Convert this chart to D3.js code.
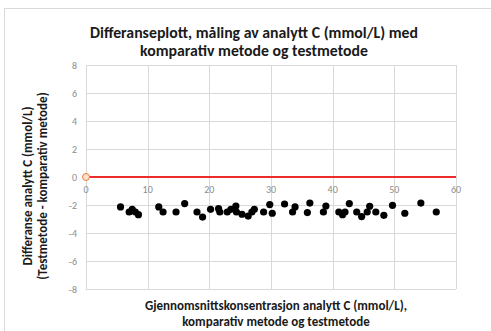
<!DOCTYPE html>
<html>
<head>
<meta charset="utf-8">
<script src="https://cdn.jsdelivr.net/npm/d3@7"></script>
<style>
  body { margin: 0; background: #fff; }
  svg { display: block; }
</style>
</head>
<body>
<div id="chart"></div>
<script>
var meanConc = [5.6, 7.0, 7.5, 8.0, 8.5, 11.8, 12.5, 14.6, 16.0, 18.0, 18.9, 20.2, 21.5, 21.7, 22.9,
  23.5, 24.3, 24.4, 25.3, 26.3, 26.9, 27.3, 28.8, 29.8, 30.2, 32.2, 33.5, 33.9, 35.9, 36.3,
  38.5, 38.9, 41.0, 41.6, 42.0, 42.7, 43.9, 44.7, 45.6, 46.0, 47.0, 48.3, 49.7, 51.7, 54.3, 56.8]
var difference = [-2.14, -2.5, -2.31, -2.5, -2.69, -2.14, -2.5, -2.5, -1.9, -2.5, -2.86, -2.31, -2.26, -2.5, -2.5,
  -2.31, -2.07, -2.5, -2.66, -2.79, -2.5, -2.31, -2.5, -1.97, -2.59, -1.93, -2.5, -2.14, -2.54, -1.86,
  -2.5, -2.07, -2.5, -2.69, -2.5, -1.9, -2.5, -2.83, -2.5, -2.09, -2.5, -2.74, -2.02, -2.59, -1.86, -2.5]
var zeroLine = [[0, 0], [60, 0]]
var xTicks = [0, 10, 20, 30, 40, 50, 60]
var yTicks = [8, 6, 4, 2, 0, -2, -4, -6, -8]
var titleLines = ["Differanseplott, måling av analytt C (mmol/L) med", "komparativ metode  og testmetode"]
var yTitleLines = ["Differanse analytt C (mmol/L)", "(Testmetode - komparativ metode)"]
var xTitleLines = ["Gjennomsnittskonsentrasjon  analytt C (mmol/L),", "komparativ  metode og testmetode"]

var width = 491
var height = 331
var plotLeft = 86, plotRight = 456, plotTop = 65, plotBottom = 289
var font = "Carlito, 'Open Sans', 'Noto Sans', sans-serif"

var svg = d3.select("#chart").append("svg")
  .attr("width", width)
  .attr("height", height)

svg.append("rect")
  .attr("x", 4.5).attr("y", 8.5)
  .attr("width", 492).attr("height", 330)
  .attr("fill", "#fff")
  .attr("stroke", "#d9d9d9")

var x = d3.scaleLinear().domain([0, 60]).range([plotLeft, plotRight])
var y = d3.scaleLinear().domain([-8, 8]).range([plotBottom, plotTop])

// gridlines
svg.append("g").selectAll("line")
  .data(yTicks)
  .enter().append("line")
  .attr("x1", plotLeft).attr("x2", plotRight)
  .attr("y1", function(d) { return Math.round(y(d)) + 0.5 })
  .attr("y2", function(d) { return Math.round(y(d)) + 0.5 })
  .attr("stroke", "#d9d9d9")

svg.append("g").selectAll("line")
  .data(xTicks)
  .enter().append("line")
  .attr("y1", plotTop).attr("y2", plotBottom)
  .attr("x1", function(d) { return Math.round(x(d)) + 0.5 })
  .attr("x2", function(d) { return Math.round(x(d)) + 0.5 })
  .attr("stroke", "#d9d9d9")

// y tick labels
svg.append("g").selectAll("text")
  .data(yTicks)
  .enter().append("text")
  .text(function(d) { return d })
  .attr("x", 77)
  .attr("y", function(d) { return y(d) + 3.5 })
  .attr("text-anchor", "end")
  .attr("font-family", font)
  .attr("font-size", "10px")
  .attr("fill", "#8c8c8c")

// x tick labels sit under the zero line
svg.append("g").selectAll("text")
  .data(xTicks)
  .enter().append("text")
  .text(function(d) { return d })
  .attr("x", function(d) { return x(d) })
  .attr("y", y(0) + 16)
  .attr("text-anchor", "middle")
  .attr("font-family", font)
  .attr("font-size", "10px")
  .attr("fill", "#8c8c8c")

// red zero line
svg.append("path")
  .datum(zeroLine)
  .attr("d", d3.line().x(function(d) { return x(d[0]) }).y(function(d) { return y(d[1]) }))
  .attr("stroke", "#ee2b2b")
  .attr("stroke-width", 2)
  .attr("fill", "none")

svg.append("circle")
  .attr("cx", x(0)).attr("cy", y(0))
  .attr("r", 3.5)
  .attr("fill", "#fbe3d3")
  .attr("stroke", "#ed7d31")
  .attr("stroke-width", 1)

// data points
svg.append("g").selectAll("circle")
  .data(meanConc)
  .enter().append("circle")
  .attr("cx", function(d) { return x(d) })
  .attr("cy", function(d, i) { return y(difference[i]) })
  .attr("r", 3.6)
  .attr("fill", "#000")

// titles
svg.append("g").selectAll("text")
  .data(titleLines)
  .enter().append("text")
  .text(function(d) { return d })
  .attr("x", 254)
  .attr("y", function(d, i) { return 38 + i * 18 })
  .attr("text-anchor", "middle")
  .attr("font-family", font)
  .attr("font-weight", "bold")
  .attr("font-size", "15.8px")
  .attr("fill", "#1a1a1a")

svg.append("g").selectAll("text")
  .data(xTitleLines)
  .enter().append("text")
  .text(function(d) { return d })
  .attr("x", 276)
  .attr("y", function(d, i) { return 310 + i * 16 })
  .attr("text-anchor", "middle")
  .attr("font-family", font)
  .attr("font-weight", "bold")
  .attr("font-size", "13px")
  .attr("fill", "#1a1a1a")

svg.append("g").selectAll("text")
  .data(yTitleLines)
  .enter().append("text")
  .text(function(d) { return d })
  .attr("transform", function(d, i) { return "translate(" + (32 + i * 15) + ",186) rotate(-90)" })
  .attr("text-anchor", "middle")
  .attr("font-family", font)
  .attr("font-weight", "bold")
  .attr("font-size", "13px")
  .attr("fill", "#1a1a1a")
</script>
</body>
</html>
